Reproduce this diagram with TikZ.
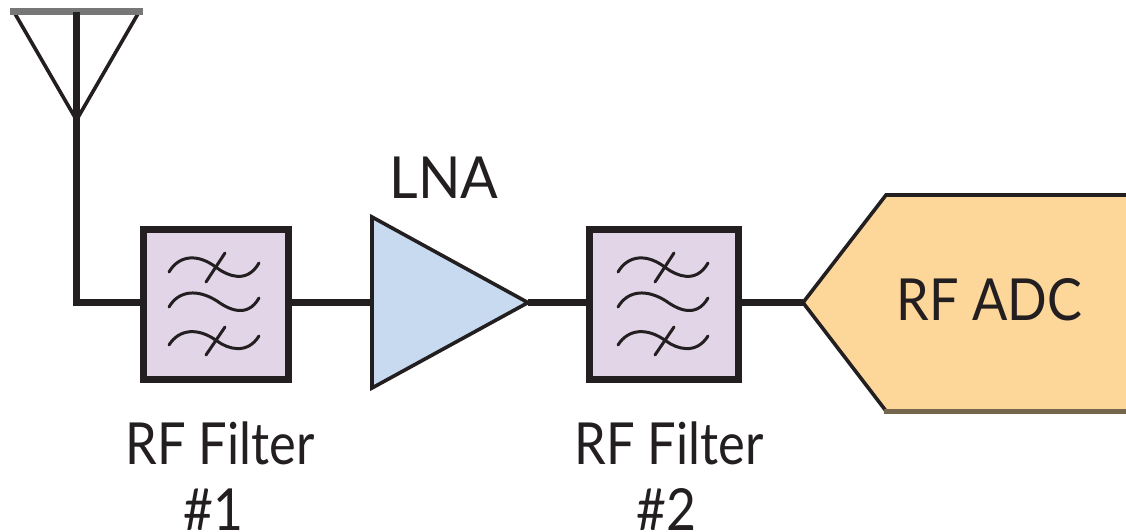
\documentclass[tikz,border=0pt]{standalone}
\usepackage{fontspec}
\setmainfont{Lato}
\newfontfamily\lblF[FakeStretch=0.873]{Lato}
\newfontfamily\lblL[FakeStretch=0.96]{Lato}
\newfontfamily\lblA[FakeStretch=0.90]{Lato}
\newfontfamily\lblN[FakeStretch=0.89]{Lato}
\definecolor{ink}{HTML}{231F20}
\definecolor{lilac}{HTML}{E1D5E7}
\definecolor{lnablue}{HTML}{C7DAF0}
\definecolor{adcorange}{HTML}{FDD699}
\definecolor{bargray}{HTML}{777777}
\definecolor{adcbottom}{HTML}{75664E}
\tikzset{
  wire/.style={draw=ink,line width=6.8pt,line cap=butt,line join=miter},
  filterbox/.style={draw=ink,fill=lilac,line width=7pt,minimum height=150.3pt,inner sep=0pt},
  squiggle/.style={draw=ink,line width=3pt,line cap=round},
  thinedge/.style={draw=ink,line width=3.6pt,line join=miter},
  lbl/.style={text=ink,inner sep=0pt,anchor=base,font=\fontsize{58}{64}\selectfont},
}
\newcommand{\wavesym}[1]{%
  \begin{scope}[shift={(#1)}]
    \draw[squiggle] (-47,-33) .. controls (-37,-50) and (-18,-52) .. (1,-37) .. controls (12,-29) and (31,-21) .. (43,-42);
    \draw[squiggle] (-10,-23) -- (9,-52);
    \draw[squiggle] (-47,2) .. controls (-37,-15) and (-18,-16) .. (1,-4) .. controls (12,4) and (31,14) .. (43,-7);
    \draw[squiggle] (-47,40) .. controls (-37,24) and (-18,22) .. (1,36) .. controls (12,44) and (31,50) .. (43,31);
    \draw[squiggle] (-10,50) -- (9,22);
  \end{scope}}
\begin{document}
\begin{tikzpicture}[x=1pt,y=-1pt]
\useasboundingbox (0,0) rectangle (1126,532);
% antenna
\coordinate (antL) at (14,12);
\coordinate (antR) at (139,12);
\coordinate (antTip) at (76.5,120);
\coordinate (antTop) at (76.5,12);
\coordinate (corner) at (76.5,302.6);
\draw[thinedge] (antL) -- (antTip) -- (antR);
\draw[draw=bargray,line width=6.5pt] (10,11.5) -- (143,11.5);
% blocks
\node[filterbox,minimum width=144.7pt] (f1) at (216,304.7) {};
\node[filterbox,minimum width=149pt] (f2) at (664,304.7) {};
\wavesym{216,305}
\wavesym{665,305}
\coordinate (f1in) at (140,302.6);
\coordinate (f1out) at (292,302.6);
\coordinate (f2in) at (586,302.6);
\coordinate (f2out) at (742,302.6);
\coordinate (lnaA) at (372,217);
\coordinate (lnaB) at (372,388);
\coordinate (lnaTip) at (528,302.6);
\coordinate (lnaIn) at (372,302.6);
\coordinate (adcTip) at (803,302.6);
\draw[wire] (antTop) -- (corner) -- (f1in);
\draw[wire] (f1out) -- (lnaIn);
\draw[wire] (lnaTip) -- (f2in);
\draw[wire] (f2out) -- (adcTip);
\draw[thinedge,fill=lnablue] (lnaA) -- (lnaTip) -- (lnaB) -- cycle;
\fill[adcorange] (adcTip) -- (886,195) -- (1126,195) -- (1126,411) -- (886,411) -- cycle;
\draw[thinedge] (1126,195) -- (886,195) -- (adcTip) -- (886,411);
\draw[draw=adcbottom,line width=5pt] (884,411.5) -- (1126,411.5);
% labels
\node[lbl] (lna) at (444,198) {\lblL LNA};
\node[lbl] (adc) at (989.5,320) {\lblA RF ADC};
\node[lbl] (l1) at (220,464) {\lblF RF Filter};
\node[lbl] (n1) at (213.5,530) {\lblN\#1};
\node[lbl] (l2) at (669,464) {\lblF RF Filter};
\node[lbl] (n2) at (666,530) {\lblN\#2};
\end{tikzpicture}
\end{document}
